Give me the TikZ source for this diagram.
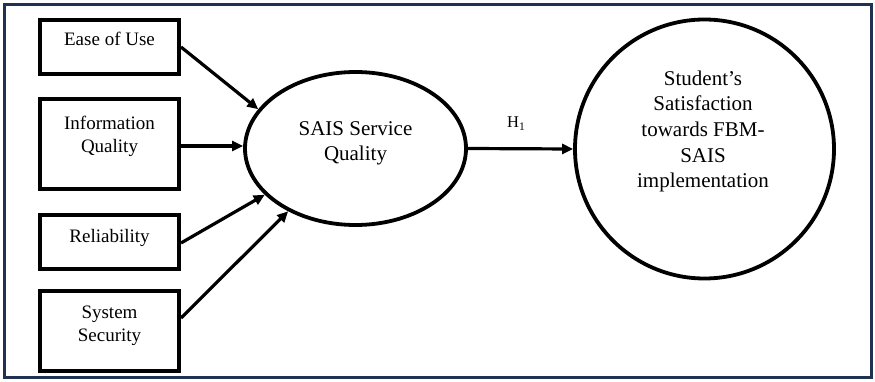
\documentclass[tikz,border=0pt]{standalone}
\usepackage{fontspec}
\setmainfont{Liberation Serif}
\usetikzlibrary{shapes.geometric,arrows.meta,calc}
\definecolor{framenavy}{RGB}{31,50,82}
\tikzset{
  inbox/.style={draw=black, line width=4pt, minimum width=139pt, inner sep=0pt, fill=white},
  boxtxt/.style={font=\fontsize{19}{23}\selectfont, align=center, anchor=base, inner sep=0pt},
  bigtxt/.style={font=\fontsize{21}{25.7}\selectfont, align=center, anchor=base, inner sep=0pt},
  conn/.style={line width=3.2pt, -{Triangle[length=11pt,width=10pt]}},
}
\begin{document}
\begin{tikzpicture}[x=1pt,y=-1pt]
\useasboundingbox (0,0) rectangle (875,382);
\draw[framenavy, line width=3pt, fill=white] (4.5,4.5) rectangle (871.5,377.5);
% boxes
\node[inbox, minimum height=54pt] (eou) at (109.5,47) {};
\node[inbox, minimum height=90pt] (iq) at (109.5,144) {};
\node[inbox, minimum height=54pt] (rel) at (109.5,242) {};
\node[inbox, minimum height=80pt] (sys) at (109.5,331) {};
\node[boxtxt] (teou) at (109.5,46) {Ease of Use};
\node[boxtxt] (tiq) at (109.5,153) {Information\\Quality};
\node[boxtxt] (trel) at (109.5,242) {Reliability};
\node[boxtxt] (tsys) at (109.5,341) {System\\Security};
% ellipse and circle
\node[ellipse, draw, line width=3.8pt, minimum width=221pt, minimum height=153pt, inner sep=0pt] (sq) at (355.5,148.5) {};
\node[bigtxt] (tsq) at (355.5,161) {SAIS Service\\Quality};
\node[circle, draw, line width=3.8pt, minimum size=259pt, inner sep=0pt] (sat) at (704.5,149) {};
\node[bigtxt] (tsat) at (703,188) {Student’s\\Satisfaction\\towards FBM-\\SAIS\\implementation};
% connectors
\coordinate (iqs) at ([yshift=-2pt]iq.east);
\draw[conn] (eou.east) -- (sq.158);
\draw[conn] (iqs) -- (sq.west |- iqs);
\draw[conn] ([yshift=-1pt]rel.east) -- (sq.207);
\draw[conn] ([yshift=13pt]sys.east) -- (sq.223);
\draw[conn] (sq.east) -- (sat.west);
\node[font=\fontsize{16.5}{20}\selectfont, anchor=base west, inner sep=0pt] (h1) at (507,128) {H\textsubscript{1}};
\end{tikzpicture}
\end{document}
